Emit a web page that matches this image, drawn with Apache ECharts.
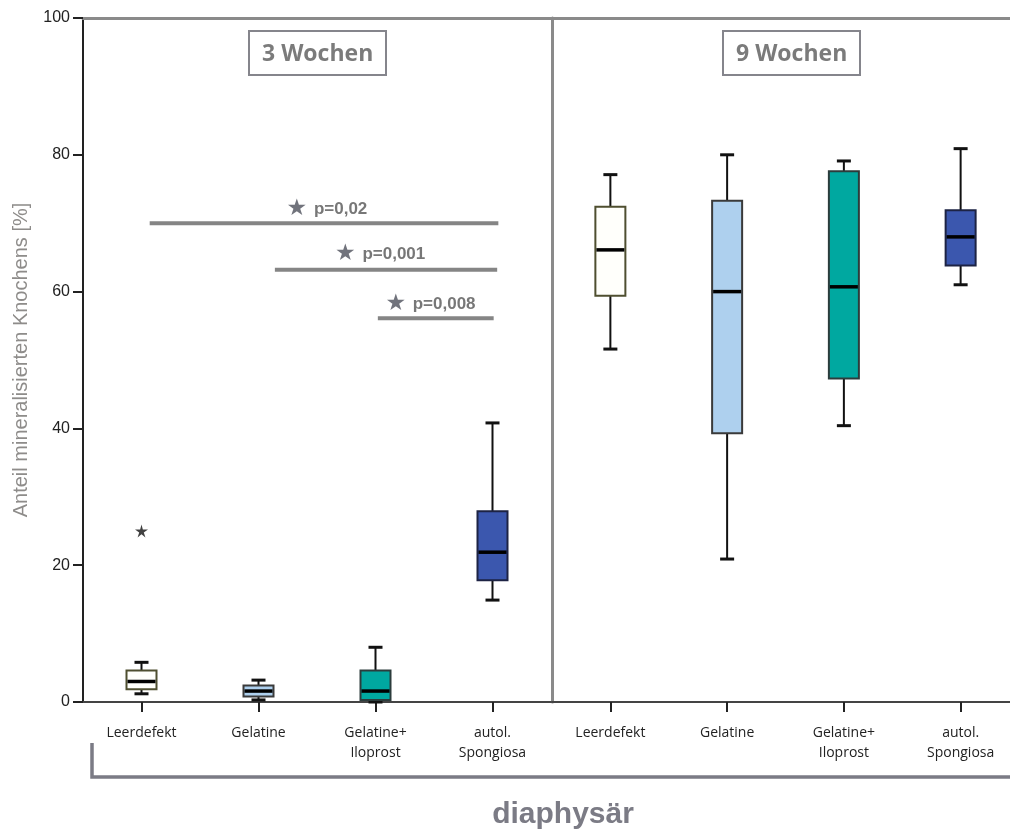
<!DOCTYPE html>
<html>
<head>
<meta charset="utf-8">
<script src="https://cdn.jsdelivr.net/npm/echarts@6/dist/echarts.min.js"></script>
<style>
html,body{margin:0;padding:0;background:#fff;overflow:hidden;width:1010px;height:831px;}
#chart{width:1030px;height:831px;}
</style>
</head>
<body>
<div id="chart"></div>
<script>
// ---------- data ----------
const categories = ['Leerdefekt', 'Gelatine', 'Gelatine+\nIloprost', 'autol.\nSpongiosa'];
const panelTitles = ['3 Wochen', '9 Wochen'];
const yMin = 0, yMax = 100, yStep = 20;
const yAxisName = 'Anteil mineralisierten Knochens [%]';
const groupLabel = 'diaphysär';

// [min, q1, median, q3, max]
const week3Stats = [
  [1.2, 1.85, 3.0, 4.6, 5.8],
  [0.3, 0.8, 1.6, 2.4, 3.2],
  [0.0, 0.3, 1.6, 4.6, 8.0],
  [14.9, 17.8, 21.9, 27.9, 40.8]
];
const week9Stats = [
  [51.6, 59.4, 66.1, 72.4, 77.1],
  [20.9, 39.3, 60.0, 73.3, 80.0],
  [40.4, 47.3, 60.7, 77.6, 79.1],
  [61.0, 63.8, 68.0, 71.9, 80.9]
];
const week3Outliers = [[0, 25]];

// significance bars (category-unit position: category i centre = i + 0.5)
const sigFrom = [0.57, 1.64, 2.52];
const sigTo = [3.55, 3.54, 3.51];
const sigY = [70, 63.2, 56.1];
const sigText = ['p=0,02', 'p=0,001', 'p=0,008'];
const sigTextX = [2.085, 2.54, 2.97];
const sigTextY = [72.0, 65.5, 58.2];

// ---------- styles ----------
const boxFill = ['#fffffb', '#aed0ee', '#00a8a0', '#3b57ae'];
const boxStroke = ['#4f4f30', '#3a3a3a', '#2c3c3c', '#1d2344'];

function boxRenderer(params, api) {
  const i = api.value(0);
  const lo = api.coord([i, api.value(1)]);
  const q1 = api.coord([i, api.value(2)]);
  const md = api.coord([i, api.value(3)]);
  const q3 = api.coord([i, api.value(4)]);
  const hi = api.coord([i, api.value(5)]);
  const x = lo[0];
  const bw = 30, cw = 14;
  const ws = {stroke: '#111', lineWidth: 2};
  const cs = {stroke: '#111', lineWidth: 3};
  return {
    type: 'group',
    children: [
      {type: 'line', shape: {x1: x, y1: hi[1], x2: x, y2: q3[1]}, style: ws},
      {type: 'line', shape: {x1: x, y1: q1[1], x2: x, y2: lo[1]}, style: ws},
      {type: 'line', shape: {x1: x - cw / 2, y1: hi[1], x2: x + cw / 2, y2: hi[1]}, style: cs},
      {type: 'line', shape: {x1: x - cw / 2, y1: lo[1], x2: x + cw / 2, y2: lo[1]}, style: cs},
      {type: 'rect', shape: {x: x - bw / 2, y: q3[1], width: bw, height: q1[1] - q3[1]},
        style: {fill: boxFill[i], stroke: boxStroke[i], lineWidth: 2}},
      {type: 'line', shape: {x1: x - bw / 2 + 1, y1: md[1], x2: x + bw / 2 - 1, y2: md[1]},
        style: {stroke: '#000', lineWidth: 3.5}}
    ]
  };
}

const catAxis = (gi) => ({
  gridIndex: gi, type: 'category', data: categories, position: 'bottom',
  axisLine: {show: true, lineStyle: {color: '#444', width: 2}},
  axisTick: {show: true, alignWithLabel: true, length: 10, lineStyle: {color: '#222', width: 2}},
  axisLabel: {interval: 0, margin: 21, fontSize: 14, lineHeight: 20, color: '#222',
    fontFamily: 'Open Sans', verticalAlign: 'top'},
  splitLine: {show: false}
});
const topAxis = (gi) => ({
  gridIndex: gi, type: 'value', min: 0, max: 4, position: 'top',
  axisLine: {show: true, lineStyle: {color: '#8a8a8a', width: 3}},
  axisTick: {show: false}, axisLabel: {show: false}, splitLine: {show: false}
});

const starPath = 'path://M50,0 L60,36 L98,36 L67,58 L79,95 L50,72 L21,95 L33,58 L2,36 L40,36 Z';

const series = [
  {type: 'custom', xAxisIndex: 0, yAxisIndex: 0, renderItem: boxRenderer,
    encode: {x: 0, y: [1, 2, 3, 4, 5]}, data: week3Stats.map((s, i) => [i].concat(s)), z: 3},
  {type: 'custom', xAxisIndex: 1, yAxisIndex: 1, renderItem: boxRenderer,
    encode: {x: 0, y: [1, 2, 3, 4, 5]}, data: week9Stats.map((s, i) => [i].concat(s)), z: 3},
  {type: 'scatter', xAxisIndex: 0, yAxisIndex: 0, data: week3Outliers,
    symbol: starPath, symbolSize: 13, itemStyle: {color: '#111'}, z: 4}
];
sigFrom.forEach((f, k) => {
  series.push({type: 'line', xAxisIndex: 2, yAxisIndex: 0, symbol: 'none',
    lineStyle: {color: '#858585', width: 4}, data: [[f, sigY[k]], [sigTo[k], sigY[k]]], z: 2});
});
series.push({
  type: 'scatter', xAxisIndex: 2, yAxisIndex: 0, symbolSize: 0,
  data: sigText.map((t, k) => ({value: [sigTextX[k], sigTextY[k]], name: t})),
  label: {show: true, position: 'inside',
    formatter: (p) => '{s|★}  {p|' + p.name + '}',
    rich: {
      s: {fontSize: 23, color: '#4d505b', fontFamily: 'DejaVu Sans'},
      p: {fontSize: 17, fontWeight: 'bold', color: '#555', fontFamily: 'Liberation Sans'}
    }
  }, z: 5
});

const chart = echarts.init(document.getElementById('chart'), null, {renderer: 'canvas'});
chart.setOption({
  animation: false,
  backgroundColor: '#fff',
  title: [
    {text: panelTitles[0], left: 249, top: 31},
    {text: panelTitles[1], left: 723, top: 31}
  ].map(t => Object.assign(t, {
    padding: [8, 13, 6, 13], borderColor: '#85858c', borderWidth: 2,
    textStyle: {fontSize: 23, lineHeight: 30, fontWeight: 'bold', color: '#7b7b7b', fontFamily: 'Open Sans'}
  })),
  grid: [
    {left: 83, width: 468, top: 18, height: 684},
    {left: 552, width: 467, top: 18, height: 684}
  ],
  xAxis: [catAxis(0), catAxis(1), topAxis(0), topAxis(1)],
  yAxis: [
    {gridIndex: 0, type: 'value', min: yMin, max: yMax, interval: yStep,
      name: yAxisName, nameLocation: 'middle', nameGap: 52,
      nameTextStyle: {fontSize: 20, color: '#8e8c8a', fontFamily: 'Liberation Sans'},
      axisLine: {show: true, lineStyle: {color: '#222', width: 2}},
      axisTick: {show: true, length: 10, lineStyle: {color: '#222', width: 2}},
      axisLabel: {fontSize: 16, color: '#222', margin: 13, fontFamily: 'Liberation Sans'},
      splitLine: {show: false}},
    {gridIndex: 1, type: 'value', min: yMin, max: yMax, interval: yStep,
      axisLine: {show: true, lineStyle: {color: '#8a8a8a', width: 3}},
      axisTick: {show: false}, axisLabel: {show: false}, splitLine: {show: false}}
  ],
  graphic: [
    {type: 'polyline', shape: {points: [[92, 743], [92, 777], [1030, 777]]},
      style: {stroke: '#7b7b85', lineWidth: 3.5, fill: null}},
    {type: 'text', x: 563, y: 815,
      style: {text: groupLabel, fontSize: 30, fontWeight: 'bold', fill: '#7b7b85',
        fontFamily: 'Liberation Sans', textAlign: 'center', textVerticalAlign: 'middle'}}
  ],
  series: series
});
</script>
</body>
</html>
